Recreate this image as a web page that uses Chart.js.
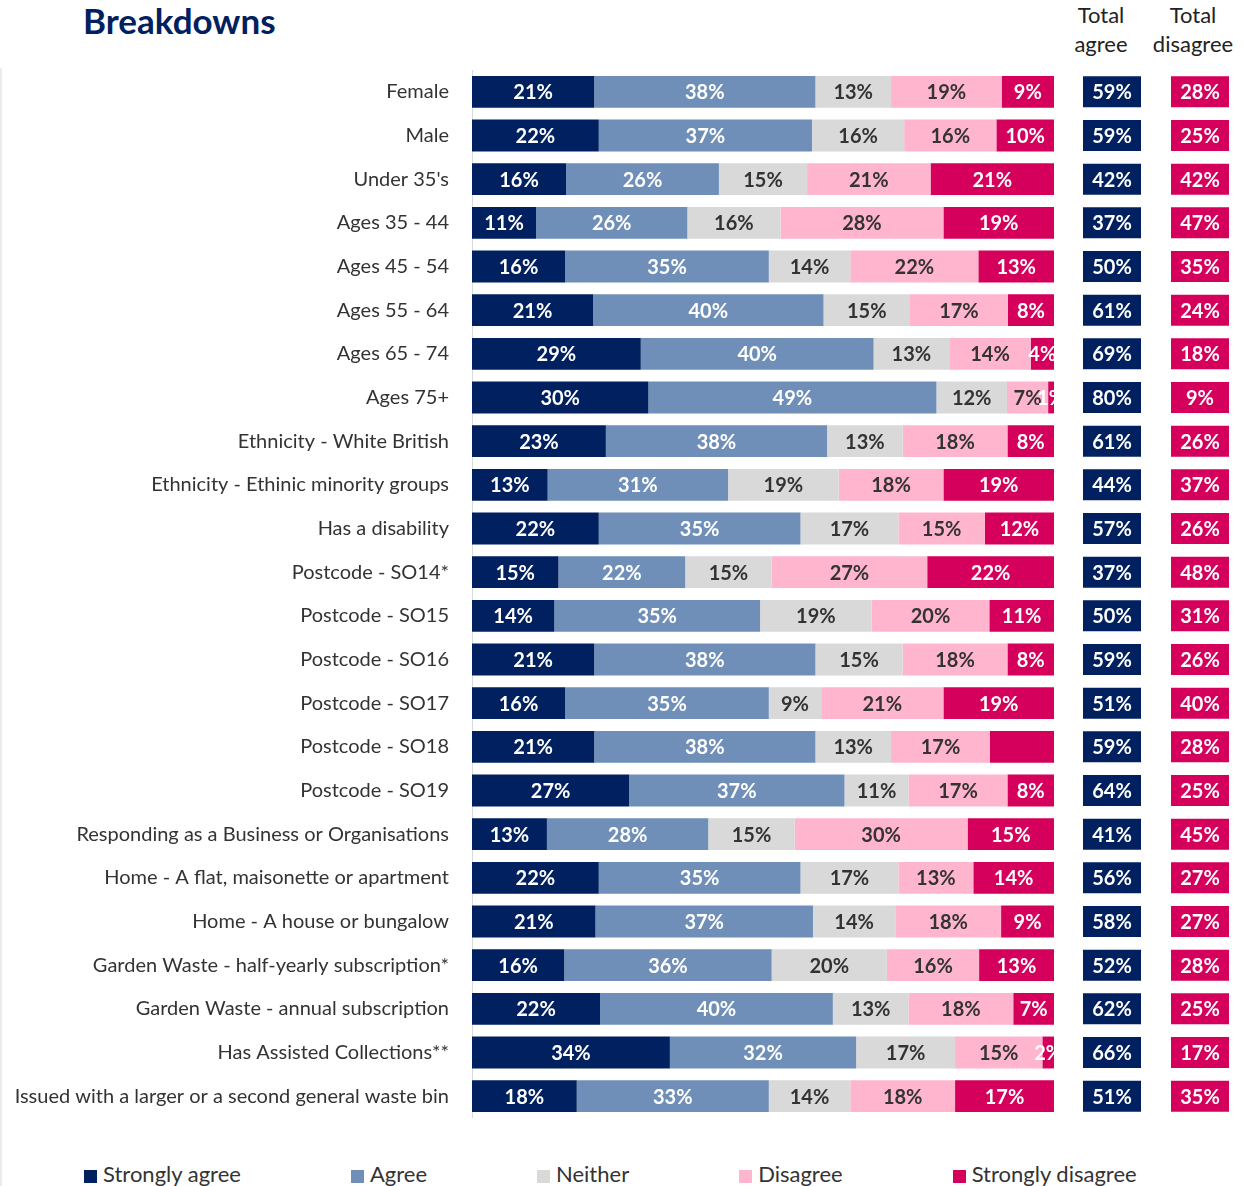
<!DOCTYPE html>
<html>
<head>
<meta charset="utf-8">
<script src="https://cdn.jsdelivr.net/npm/chart.js@4.4.1/dist/chart.umd.min.js"></script>
<style>
  body { margin: 0; width: 1244px; height: 1186px; overflow: hidden; background: #fff; font-family: Lato, sans-serif; position: relative; }
  #edge { position: absolute; left: 0; top: 68px; width: 3px; bottom: 0; background: linear-gradient(to right, #e4e4e4, #fff); }
  #title { position: absolute; left: 83px; top: 0px; font-size: 35px; font-weight: bold; color: #002060; line-height: 40px; }
  .head { position: absolute; top: 0px; width: 110px; text-align: center; font-size: 22px; line-height: 29px; color: #222; }
  .wrap { position: absolute; top: 70px; height: 1048px; }
  #legend { position: absolute; left: 84px; top: 1161px; display: flex; gap: 110px; font-size: 22px; color: #333; line-height: 26px; }
  #legend span.box { display: inline-block; width: 13px; height: 13px; margin-right: 6px; vertical-align: -1px; }
</style>
</head>
<body>
<div id="edge"></div>
<div id="title">Breakdowns</div>
<div class="head" style="left:1046px">Total<br>agree</div>
<div class="head" style="left:1138px">Total<br>disagree</div>
<div class="wrap" style="left:0; width:1054px"><canvas id="mainChart"></canvas></div>
<div class="wrap" style="left:1083px; width:58px"><canvas id="agreeChart"></canvas></div>
<div class="wrap" style="left:1171px; width:58px"><canvas id="disagreeChart"></canvas></div>
<div id="legend"></div>
<script>
const categories = [
  'Female', 'Male', "Under 35's", 'Ages 35 - 44', 'Ages 45 - 54', 'Ages 55 - 64',
  'Ages 65 - 74', 'Ages 75+', 'Ethnicity - White British', 'Ethnicity - Ethinic minority groups',
  'Has a disability', 'Postcode - SO14*', 'Postcode - SO15', 'Postcode - SO16',
  'Postcode - SO17', 'Postcode - SO18', 'Postcode - SO19',
  'Responding as a Business or Organisations', 'Home - A flat, maisonette or apartment',
  'Home - A house or bungalow', 'Garden Waste - half-yearly subscription*',
  'Garden Waste - annual subscription', 'Has Assisted Collections**',
  'Issued with a larger or a second general waste bin'
];
const seriesNames = ['Strongly agree', 'Agree', 'Neither', 'Disagree', 'Strongly disagree'];
const strongAgree    = [21, 22, 16, 11, 16, 21, 29, 30, 23, 13, 22, 15, 14, 21, 16, 21, 27, 13, 22, 21, 16, 22, 34, 18];
const agree          = [38, 37, 26, 26, 35, 40, 40, 49, 38, 31, 35, 22, 35, 38, 35, 38, 37, 28, 35, 37, 36, 40, 32, 33];
const neither        = [13, 16, 15, 16, 14, 15, 13, 12, 13, 19, 17, 15, 19, 15,  9, 13, 11, 15, 17, 14, 20, 13, 17, 14];
const disagree       = [19, 16, 21, 28, 22, 17, 14,  7, 18, 18, 15, 27, 20, 18, 21, 17, 17, 30, 13, 18, 16, 18, 15, 18];
const strongDisagree = [ 9, 10, 21, 19, 13,  8,  4,  1,  8, 19, 12, 22, 11,  8, 19, 11,  8, 15, 14,  9, 13,  7,  2, 17];
const totalAgree     = [59, 59, 42, 37, 50, 61, 69, 80, 61, 44, 57, 37, 50, 59, 51, 59, 64, 41, 56, 58, 52, 62, 66, 51];
const totalDisagree  = [28, 25, 42, 47, 35, 24, 18,  9, 26, 37, 26, 48, 31, 26, 40, 28, 25, 45, 27, 27, 28, 25, 17, 35];
// label not shown in the source for this segment: [row, series]
const hiddenLabels = [[15, 4]];

const colors = ['#002060', '#6f8fb9', '#d9d9d9', '#ffb5ce', '#d5005b'];
const labelColors = ['#fff', '#fff', '#333', '#333', '#fff'];
const series = [strongAgree, agree, neither, disagree, strongDisagree];

// Excel 100% stacked: each row is scaled to its own total
const rowSums = categories.map((c, i) => series.reduce((s, arr) => s + arr[i], 0));

const barLabels = {
  id: 'barLabels',
  afterDatasetsDraw(chart) {
    const ctx = chart.ctx;
    const area = chart.chartArea;
    ctx.save();
    ctx.beginPath();
    ctx.rect(area.left, area.top, area.right - area.left, area.bottom - area.top);
    ctx.clip();
    ctx.font = 'bold 20px Lato';
    ctx.textAlign = 'center';
    ctx.textBaseline = 'middle';
    chart.data.datasets.forEach((ds, d) => {
      chart.getDatasetMeta(d).data.forEach((bar, i) => {
        if (hiddenLabels.some(h => h[0] === i && h[1] === d)) return;
        ctx.fillStyle = ds.labelColor;
        ctx.fillText(ds.raw[i] + '%', (bar.x + bar.base) / 2, bar.y + 1);
      });
    });
    ctx.restore();
  }
};

new Chart(document.getElementById('mainChart'), {
  type: 'bar',
  data: {
    labels: categories,
    datasets: series.map((arr, d) => ({
      label: seriesNames[d],
      data: arr.map((v, i) => v / rowSums[i] * 100),
      raw: arr,
      labelColor: labelColors[d],
      backgroundColor: colors[d],
      borderWidth: 0,
      barPercentage: 0.73,
      categoryPercentage: 1
    }))
  },
  options: {
    indexAxis: 'y',
    responsive: true,
    maintainAspectRatio: false,
    animation: false,
    layout: { padding: 0 },
    plugins: { legend: { display: false }, tooltip: { enabled: false } },
    scales: {
      x: { stacked: true, min: 0, max: 100, display: false },
      y: {
        stacked: true,
        afterFit(scale) {
          scale.width = 472;
          scale.paddingTop = 0;
          scale.paddingBottom = 0;
        },
        grid: { display: false, drawTicks: false },
        border: { display: true, color: '#d9d9d9', width: 1 },
        ticks: { padding: 23, color: '#333', font: { family: 'Lato', size: 20 } }
      }
    }
  },
  plugins: [barLabels]
});

function totalChart(id, values, color) {
  new Chart(document.getElementById(id), {
    type: 'bar',
    data: {
      labels: categories,
      datasets: [{
        data: values.map(() => 1),
        raw: values,
        labelColor: '#fff',
        backgroundColor: color,
        borderWidth: 0,
        barPercentage: 0.71,
        categoryPercentage: 1
      }]
    },
    options: {
      indexAxis: 'y',
      responsive: true,
      maintainAspectRatio: false,
      animation: false,
      plugins: { legend: { display: false }, tooltip: { enabled: false } },
      scales: {
        x: { min: 0, max: 1, display: false },
        y: { display: false }
      }
    },
    plugins: [barLabels]
  });
}
totalChart('agreeChart', totalAgree, colors[0]);
totalChart('disagreeChart', totalDisagree, colors[4]);

const legend = document.getElementById('legend');
seriesNames.forEach((name, d) => {
  const item = document.createElement('div');
  item.innerHTML = '<span class="box" style="background:' + colors[d] + '"></span>' + name;
  legend.appendChild(item);
});
</script>
</body>
</html>
